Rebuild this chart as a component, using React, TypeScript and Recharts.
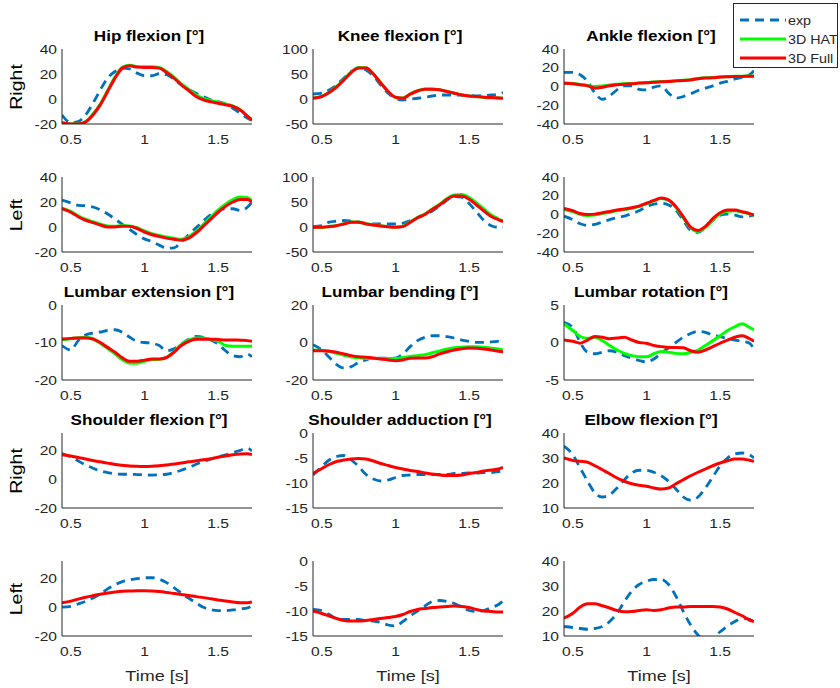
import React from 'react';
import { LineChart, Line, XAxis, YAxis } from 'recharts';

// sample times (s)
const TIME = [0.44, 0.5, 0.55, 0.6, 0.65, 0.7, 0.75, 0.8, 0.85, 0.9, 0.95, 1.0, 1.05, 1.1, 1.15, 1.2, 1.25, 1.3, 1.35, 1.4, 1.45, 1.5, 1.55, 1.6, 1.65, 1.7, 1.73];
const X_TICKS = [0.5, 1, 1.5];
const X_DOMAIN = [0.44, 1.73];

// Hip flexion right
const hipR_exp = [-12.8, -19, -18, -12.8, -3.4, 7.3, 16.7, 22, 24.7, 24, 20.7, 18.6, 18.6, 20.2, 19.4, 15.9, 11.3, 7.8, 4.6, 2, -0.7, -2, -4, -7.4, -11.4, -15.4, -17];
const hipR_hat = [-19, -20, -19.8, -18, -12, -4, 7, 17.5, 25.5, 27, 26, 25.8, 25.8, 25.2, 22, 17.5, 12.3, 7.8, 3.2, 0.5, -1.2, -2.5, -4, -5.6, -8.5, -13.8, -16.8];
const hipR_full = [-19, -20, -20, -18.4, -12.8, -4.7, 6, 16.7, 24.7, 26.6, 25.5, 25.3, 25.3, 24.7, 21.2, 16.7, 11.3, 6.8, 2, -0.7, -2.3, -3.4, -4.7, -6, -8.8, -14, -16.8];

// Knee flexion right
const kneeR_exp = [10, 11.6, 18, 28, 42, 55, 62, 58, 46, 28, 11.6, 1.5, -2, 0, 1.5, 3.5, 6, 8, 8, 8, 7.6, 7, 6, 7, 8, 10, 13];
const kneeR_hat = [2, 5.5, 13.5, 25, 39, 54, 63, 62.5, 50, 32, 15, 3.5, 2, 10, 16.5, 20, 20, 18.5, 15, 11.5, 8, 6, 4.5, 3.2, 2.5, 2, 1.5];
const kneeR_full = [1.5, 5, 13, 24, 38, 53, 62, 62, 50, 32, 15, 3.5, 1.5, 9.6, 16, 19.6, 19.6, 18.3, 15, 11.6, 8.2, 6.2, 5, 3.5, 3, 2.2, 1.5];

// Ankle flexion right
const ankleR_exp = [15, 15, 12.5, 5.4, -7, -13.6, -10, -3.6, 0.7, 0.7, -3, -3.6, -0.7, 0.7, -7, -12.5, -10.7, -7.9, -4.3, -1.8, 0.7, 3.6, 5.4, 8, 10, 12.5, 17];
const ankleR_hat = [3.8, 3.2, 2.2, 1.2, 0, 0.5, 1.5, 2.3, 2.9, 3.3, 3.9, 4.3, 4.9, 5.3, 5.6, 6.2, 6.6, 7.3, 8.5, 9.3, 9.7, 10.3, 10.6, 10.9, 11, 11.2, 11.2];
const ankleR_full = [3.6, 2.9, 1.8, 0.7, -1.8, -0.7, 0.7, 1.8, 2.5, 2.9, 3.6, 4, 4.6, 5, 5.4, 6, 6.4, 7, 8.2, 9, 9.3, 10, 10.4, 10.7, 10.7, 11, 11];

// Hip flexion left
const hipL_exp = [21.5, 19.3, 17.3, 17, 16, 13.7, 10.4, 6.3, 2.1, -2, -6.2, -9.5, -11.7, -14.5, -17, -16.7, -11.7, -6.2, -0.6, 4.9, 9.9, 13.2, 14.6, 14.6, 13.2, 16, 20];
const hipL_hat = [15, 12.5, 9, 6.2, 4.2, 2.3, 0.8, 0.6, 1.2, 0.8, -0.6, -3.2, -5.3, -6.8, -8, -9, -9.8, -7.8, -3.5, 2.2, 8, 13.5, 18.2, 22, 24, 23.5, 21];
const hipL_full = [14.6, 11.8, 8.2, 5.4, 3.5, 1.6, 0, 0, 0.7, 0.5, -1.2, -4, -6.2, -7.6, -8.9, -9.8, -10.6, -8.9, -4.8, 0.7, 6.3, 11.8, 16.5, 20, 22, 22, 20];

// Knee flexion left
const kneeL_exp = [0.7, 2.7, 9.6, 11.6, 13, 11.6, 9.6, 7.5, 6, 6, 6, 6, 7.5, 13, 18.5, 25, 32, 42, 54, 61, 59.6, 47, 30, 13, 2.7, -0.7, -0.7];
const kneeL_hat = [-0.5, -0.5, 1, 3, 6.5, 10, 10, 6.5, 4.5, 2.5, 1, 0, 1.5, 10.5, 19, 26, 36, 45.5, 57, 64, 65, 59, 48, 36, 24, 16, 12];
const kneeL_full = [-0.7, -0.7, 0.7, 2.7, 6, 9.6, 9.6, 6, 4, 2, 0.7, -0.7, 0.7, 9.6, 18.5, 25, 35, 44, 55.5, 62, 62, 55.5, 44, 32, 21, 14.4, 11];

// Ankle flexion left
const ankleL_exp = [-1.8, -5.5, -9.8, -11.6, -10.5, -8, -5.5, -3.3, -1.8, 1, 4, 8.4, 11, 12, 10.2, 4.7, -6.2, -17, -19, -14, -6.2, -0.7, 0.4, -0.7, -2.5, -1.8, -0.7];
const ankleL_hat = [5.5, 3, 0, -1, -0.5, 1, 2.5, 4, 5.2, 6.8, 8.5, 11.5, 14.5, 17, 15, 7.5, -3.5, -14.5, -18, -14, -6, 0.5, 3.5, 4, 2.5, 0.5, -1];
const ankleL_full = [6.5, 4, 1, 0, 0.4, 1.8, 3.3, 4.7, 5.8, 7.3, 9, 12, 15, 17.5, 15.6, 8.4, -2.5, -13.5, -17, -12.7, -4.4, 1.8, 4.7, 4.7, 3, 1, -0.7];

// Lumbar
const lumbExt_exp = [-10.8, -12, -9.5, -8, -7.5, -7.2, -6.8, -6.6, -7.3, -8.6, -9.7, -10, -10.2, -10.8, -12.2, -11.7, -10.4, -9.1, -8.4, -8.6, -9.3, -10.4, -12.2, -13.5, -13.8, -13.1, -13.8];
const lumbExt_hat = [-9.3, -9, -8.7, -8.6, -9, -10.2, -11.6, -13, -14.6, -15.5, -15.5, -15, -14.6, -14.5, -14, -12.4, -10.5, -9.4, -8.8, -8.8, -9.2, -9.6, -10.8, -11, -11, -11, -11];
const lumbExt_full = [-9.1, -8.9, -8.8, -8.8, -9.1, -10, -11.3, -12.6, -14.1, -15, -15, -14.7, -14.4, -14.4, -14, -12.6, -10.8, -9.7, -9.1, -9.1, -9.1, -9.2, -9.3, -9.3, -9.4, -9.5, -9.7];

const lumbBend_exp = [-1.2, -4, -7.9, -11.8, -13.6, -12.9, -10.6, -9.3, -8.3, -8.3, -8.3, -8.3, -6.1, -2.2, 1, 2.8, 3.6, 3.6, 3.1, 2.4, 1.3, 0.6, 0.1, 0.1, 0.3, 0.6, 0.1];
const lumbBend_hat = [-4, -4.2, -4.5, -5.8, -6.8, -7.8, -8.2, -8.5, -8.5, -8.5, -8.5, -8.5, -8, -7.5, -7, -6.5, -5.5, -4.5, -3.5, -2.8, -2.5, -2.3, -2.3, -2.5, -3, -3.5, -4];
const lumbBend_full = [-4.4, -4.4, -4.7, -5.2, -6.1, -7, -7.6, -7.9, -8.3, -8.8, -9.3, -9.7, -9.3, -8.4, -8.3, -8.3, -7.6, -6.1, -4.9, -4, -3.3, -2.9, -3.1, -3.5, -4, -4.7, -4.9];

const lumbRot_exp = [2.7, 2, 0, -1.3, -1.5, -1.3, -1.1, -1.3, -1.75, -2.1, -2.4, -2.6, -2.2, -1.45, -0.7, 0, 0.7, 1.2, 1.5, 1.35, 1, 0.8, 0.5, 0.33, 0.15, -0.1, -0.9];
const lumbRot_hat = [2.5, 1.6, 0.8, 0.55, 0.7, 0.25, -0.4, -1, -1.45, -1.75, -1.9, -1.9, -1.5, -1.2, -1.3, -1.45, -1.5, -1.3, -1, -0.4, 0.25, 0.9, 1.6, 2.1, 2.5, 2, 1.7];
const lumbRot_full = [0.33, 0.16, -0.1, 0.33, 0.8, 0.7, 0.5, 0.6, 0.7, 0.33, 0, -0.1, -0.4, -0.55, -0.65, -0.65, -0.7, -1.1, -1.3, -1, -0.55, -0.1, 0.33, 0.7, 0.9, 0.5, 0.16];

// Upper body right (no 3D HAT)
const shFlexR_exp = [17.7, 15.4, 12.6, 9.9, 7.6, 5.7, 4.6, 3.7, 3.4, 3.4, 3.2, 3, 2.8, 3, 3.4, 4.6, 6.2, 8, 10.3, 12.2, 13.8, 15.4, 16.8, 18.4, 20, 21.4, 19.5];
const shFlexR_full = [17, 16, 15, 14, 12.9, 12, 11.1, 10.2, 9.6, 9.1, 8.9, 8.7, 8.9, 9.3, 9.8, 10.5, 11.2, 12, 12.7, 13.4, 14.2, 15.2, 16, 16.9, 17.5, 17.6, 17];

const shAddR_exp = [-8.4, -6.7, -5.4, -4.7, -4.5, -5.4, -6.7, -8.3, -9.2, -9.6, -9.4, -8.9, -8.5, -8.4, -8.3, -8.3, -8.3, -8.3, -8.3, -8.1, -8.1, -8, -8, -7.9, -7.9, -7.7, -7.6];
const shAddR_full = [-8.1, -7.1, -6.3, -5.7, -5.4, -5.2, -5.1, -5.2, -5.6, -6.1, -6.5, -6.9, -7.2, -7.5, -7.7, -8, -8.2, -8.4, -8.5, -8.5, -8.4, -8.1, -7.9, -7.6, -7.4, -7.2, -6.9];

const elbowR_exp = [34.7, 31.3, 26, 20.7, 16, 14.4, 15.3, 18, 21.3, 24, 25.1, 25.1, 24.3, 22.9, 20.7, 17.6, 14.4, 13.1, 14.4, 18, 22.4, 26.9, 30, 31.6, 32, 31.3, 30];
const elbowR_full = [30, 29, 28.7, 28.3, 26.9, 25.3, 23.7, 22, 20.7, 19.7, 19.1, 18.7, 18, 17.6, 18, 19.7, 21.3, 22.9, 24.3, 25.6, 26.9, 28, 28.9, 29.6, 29.6, 29.1, 28.7];

// Upper body left
const shFlexL_exp = [0, 0.6, 2.2, 4, 6.3, 9, 12.7, 15.5, 17.7, 18.9, 19.8, 20.4, 20.4, 19.4, 17, 13.6, 9.7, 6.3, 2.9, -0.1, -1.7, -2.4, -2.4, -1.9, -1.2, -0.5, 1.3];
const shFlexL_full = [3, 4.2, 5.6, 6.9, 8, 9, 9.8, 10.5, 11, 11.2, 11.4, 11.4, 11.2, 10.8, 10.2, 9.5, 8.8, 8.1, 7.3, 6.6, 5.8, 5, 4.2, 3.5, 3, 3, 3.6];

const shAddL_exp = [-9.7, -9.9, -10.7, -11.5, -11.7, -11.7, -11.7, -11.9, -12, -12.3, -12.8, -13, -12.1, -11, -10, -9, -8.1, -7.9, -8.1, -8.5, -9.2, -9.9, -10.1, -9.9, -9.3, -8.7, -8];
const shAddL_full = [-10, -10.5, -11, -11.5, -11.9, -12, -12, -11.9, -11.7, -11.5, -11.3, -11.1, -10.7, -10.1, -9.7, -9.5, -9.3, -9.2, -9.1, -9, -9.1, -9.3, -9.7, -10, -10.1, -10.2, -10.2];

const elbowL_exp = [13.8, 13.4, 13, 12.7, 13, 13.8, 15.8, 19.1, 23.8, 27.9, 30.6, 31.9, 32.6, 32.6, 30.6, 25.9, 19.8, 14.4, 10.4, 8.4, 9.4, 11.7, 14, 15.8, 17.1, 16.7, 15.4];
const elbowL_full = [17.1, 19.1, 21.6, 22.9, 22.9, 22.1, 21.2, 20.2, 19.7, 19.8, 20.2, 20.5, 20.2, 20.5, 21.2, 21.6, 21.6, 21.8, 21.8, 21.8, 21.8, 21.6, 20.8, 19.4, 18.1, 16.4, 15.8];

const SERIES_NAMES = ['exp', '3D HAT', '3D Full'];
const ROW_LABELS = ['Right', 'Left', '', 'Right', 'Left'];

const FONT = '"Liberation Sans", Arial, Helvetica, sans-serif';
const AXIS = '#262626';
const TICK = '#262626';
const BLUE = '#0072BD';
const GREEN = '#00FF00';
const RED = '#FF0000';
const DASH = '9 6';
const STRETCH = 1.2; // the reference text is drawn a little wide

const COLS = [62, 313, 564];
const ROWS = [49, 177, 305, 433, 561];
const BOX_W = 190;
const BOX_H = 75;
const Y_AXIS_W = 44;
const PAD_T = 12;
const PAD_R = 4;
const X_AXIS_H = 30;

const PANELS = [
  { row: 0, col: 0, title: 'Hip flexion [°]', domain: [-20, 40], ticks: [-20, 0, 20, 40], exp: hipR_exp, hat: hipR_hat, full: hipR_full },
  { row: 0, col: 1, title: 'Knee flexion [°]', domain: [-50, 100], ticks: [-50, 0, 50, 100], exp: kneeR_exp, hat: kneeR_hat, full: kneeR_full },
  { row: 0, col: 2, title: 'Ankle flexion [°]', domain: [-40, 40], ticks: [-40, -20, 0, 20, 40], exp: ankleR_exp, hat: ankleR_hat, full: ankleR_full },
  { row: 1, col: 0, title: '', domain: [-20, 40], ticks: [-20, 0, 20, 40], exp: hipL_exp, hat: hipL_hat, full: hipL_full },
  { row: 1, col: 1, title: '', domain: [-50, 100], ticks: [-50, 0, 50, 100], exp: kneeL_exp, hat: kneeL_hat, full: kneeL_full },
  { row: 1, col: 2, title: '', domain: [-40, 40], ticks: [-40, -20, 0, 20, 40], exp: ankleL_exp, hat: ankleL_hat, full: ankleL_full },
  { row: 2, col: 0, title: 'Lumbar extension [°]', domain: [-20, 0], ticks: [-20, -10, 0], exp: lumbExt_exp, hat: lumbExt_hat, full: lumbExt_full },
  { row: 2, col: 1, title: 'Lumbar bending [°]', domain: [-20, 20], ticks: [-20, 0, 20], exp: lumbBend_exp, hat: lumbBend_hat, full: lumbBend_full },
  { row: 2, col: 2, title: 'Lumbar rotation [°]', domain: [-5, 5], ticks: [-5, 0, 5], exp: lumbRot_exp, hat: lumbRot_hat, full: lumbRot_full },
  { row: 3, col: 0, title: 'Shoulder flexion [°]', domain: [-20, 32], ticks: [-20, 0, 20], exp: shFlexR_exp, full: shFlexR_full },
  { row: 3, col: 1, title: 'Shoulder adduction [°]', domain: [-15, 0], ticks: [-15, -10, -5, 0], exp: shAddR_exp, full: shAddR_full },
  { row: 3, col: 2, title: 'Elbow flexion [°]', domain: [10, 40], ticks: [10, 20, 30, 40], exp: elbowR_exp, full: elbowR_full },
  { row: 4, col: 0, title: '', domain: [-20, 32], ticks: [-20, 0, 20], exp: shFlexL_exp, full: shFlexL_full },
  { row: 4, col: 1, title: '', domain: [-15, 0], ticks: [-15, -10, -5, 0], exp: shAddL_exp, full: shAddL_full },
  { row: 4, col: 2, title: '', domain: [10, 40], ticks: [10, 20, 30, 40], exp: elbowL_exp, full: elbowL_full },
];

const XTick = ({ x, y, payload }: any) => (
  <text
    transform={`translate(${x},${y}) scale(${STRETCH},1)`}
    textAnchor="middle"
    dy="0.71em"
    fontSize={13}
    fill={TICK}
    fontFamily={FONT}
  >
    {String(payload.value)}
  </text>
);

const YTick = ({ x, y, payload }: any) => (
  <text
    transform={`translate(${x},${y}) scale(${STRETCH},1)`}
    textAnchor="end"
    dy="0.36em"
    fontSize={13}
    fill={TICK}
    fontFamily={FONT}
  >
    {String(payload.value)}
  </text>
);

type PanelProps = {
  row: number;
  col: number;
  title: string;
  domain: number[];
  ticks: number[];
  exp: number[];
  hat?: number[];
  full: number[];
};

function Panel({ row, col, title, domain, ticks, exp, hat, full }: PanelProps) {
  const data = TIME.map((t, i) => ({ t, exp: exp[i], hat: hat ? hat[i] : null, full: full[i] }));
  const left = COLS[col];
  const top = ROWS[row];
  return (
    <>
      {title && (
        <div
          style={{
            position: 'absolute',
            left: left + BOX_W / 2 - 8,
            top: top - 14,
            transform: 'translate(-50%, -50%) scaleX(1.14)',
            fontFamily: FONT,
            fontWeight: 'bold',
            fontSize: 15,
            color: '#000',
            whiteSpace: 'nowrap',
          }}
        >
          {title}
        </div>
      )}
      <div style={{ position: 'absolute', left: left - Y_AXIS_W, top: top - PAD_T }}>
        <LineChart
          width={Y_AXIS_W + BOX_W + PAD_R}
          height={PAD_T + BOX_H + X_AXIS_H}
          data={data}
          margin={{ top: PAD_T, right: PAD_R, left: 0, bottom: 0 }}
        >
          <XAxis
            dataKey="t"
            type="number"
            domain={X_DOMAIN}
            ticks={X_TICKS}
            interval={0}
            allowDataOverflow
            height={X_AXIS_H}
            tickLine={false}
            tickSize={0}
            tickMargin={11}
            axisLine={{ stroke: AXIS }}
            tick={<XTick />}
          />
          <XAxis xAxisId="top" orientation="top" dataKey="t" type="number" domain={X_DOMAIN} height={0} tick={false} tickLine={false} axisLine={{ stroke: AXIS }} />
          <YAxis
            type="number"
            domain={domain}
            ticks={ticks}
            interval={0}
            allowDataOverflow
            width={Y_AXIS_W}
            tickLine={false}
            tickSize={0}
            tickMargin={5}
            axisLine={{ stroke: AXIS }}
            tick={<YTick />}
          />
          <YAxis yAxisId="right" orientation="right" width={0} domain={domain} tick={false} tickLine={false} axisLine={{ stroke: AXIS }} />
          <Line dataKey="exp" type="monotone" stroke={BLUE} strokeWidth={2.8} strokeDasharray={DASH} dot={false} isAnimationActive={false} />
          {hat && <Line dataKey="hat" type="monotone" stroke={GREEN} strokeWidth={3} dot={false} isAnimationActive={false} />}
          <Line dataKey="full" type="monotone" stroke={RED} strokeWidth={3} dot={false} isAnimationActive={false} />
        </LineChart>
      </div>
    </>
  );
}

function LegendBox() {
  const items = [
    { name: SERIES_NAMES[0], color: BLUE, dash: DASH },
    { name: SERIES_NAMES[1], color: GREEN, dash: undefined },
    { name: SERIES_NAMES[2], color: RED, dash: undefined },
  ];
  return (
    <div
      style={{
        position: 'absolute',
        left: 733,
        top: 3,
        width: 105,
        height: 65,
        background: '#fff',
        border: '1px solid #262626',
        boxSizing: 'border-box',
        zIndex: 5,
      }}
    >
      {items.map((it, i) => (
        <div key={it.name} style={{ position: 'absolute', left: 5, top: 8 + i * 19, height: 16, display: 'flex', alignItems: 'center' }}>
          <svg width={48} height={6}>
            <line x1={1} y1={3} x2={47} y2={3} stroke={it.color} strokeWidth={2.8} strokeDasharray={it.dash} />
          </svg>
          <span
            style={{
              fontFamily: FONT,
              fontSize: 13,
              color: TICK,
              marginLeft: 1,
              display: 'inline-block',
              transform: 'scaleX(1.1)',
              transformOrigin: 'left center',
              whiteSpace: 'nowrap',
            }}
          >
            {it.name}
          </span>
        </div>
      ))}
    </div>
  );
}

export default function App() {
  return (
    <div style={{ position: 'absolute', left: 0, top: 0, width: 840, height: 688, background: '#fff', overflow: 'hidden' }}>
      {PANELS.map((p, i) => (
        <Panel key={i} {...p} />
      ))}
      {ROW_LABELS.map((label, r) =>
        label ? (
          <div
            key={r}
            style={{
              position: 'absolute',
              left: 17,
              top: ROWS[r] + BOX_H / 2,
              transform: 'translate(-50%, -50%) rotate(-90deg) scaleX(1.15)',
              fontFamily: FONT,
              fontSize: 17,
              color: '#000',
            }}
          >
            {label}
          </div>
        ) : null
      )}
      {COLS.map((c, i) => (
        <div
          key={i}
          style={{
            position: 'absolute',
            left: c + BOX_W / 2,
            top: 675,
            transform: 'translate(-50%, -50%) scaleX(1.2)',
            fontFamily: FONT,
            fontSize: 15,
            color: TICK,
            whiteSpace: 'nowrap',
          }}
        >
          Time [s]
        </div>
      ))}
      <LegendBox />
    </div>
  );
}
